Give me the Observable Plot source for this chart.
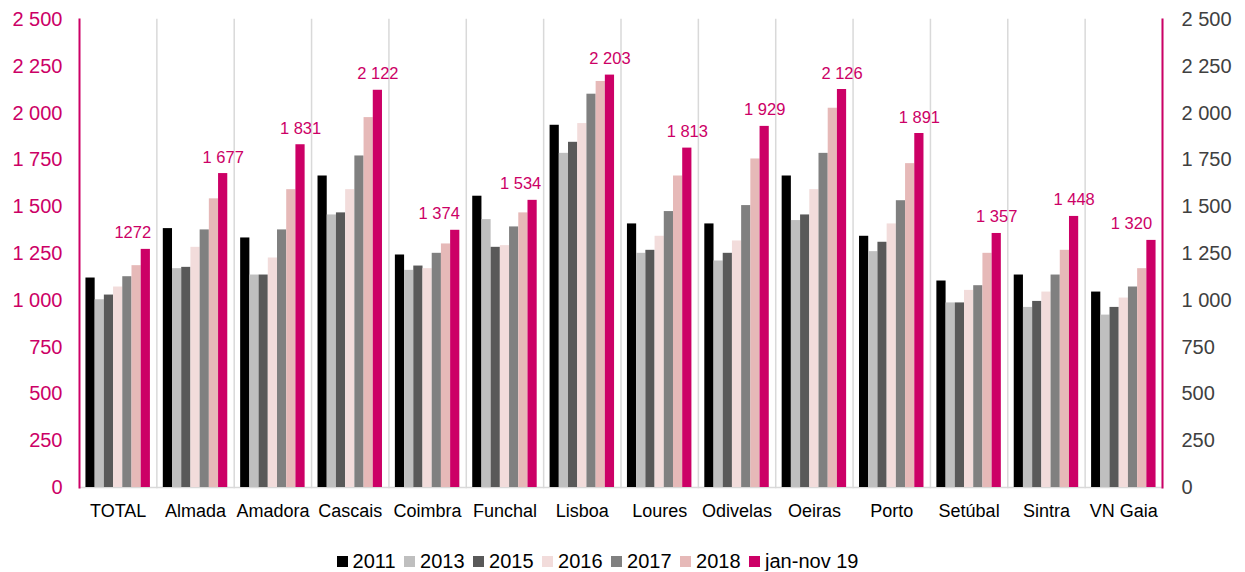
<!DOCTYPE html>
<html><head><meta charset="utf-8">
<script src="https://cdn.jsdelivr.net/npm/d3@7"></script>
<script src="https://cdn.jsdelivr.net/npm/@observablehq/plot@0.6"></script>
<style>
body{margin:0;background:#fff;font-family:"Liberation Sans",Arial,sans-serif}
#legend{display:flex;justify-content:center;align-items:center;gap:8.5px;font-size:20px;color:#000;margin-top:21px;padding-right:50px;line-height:20px;height:20px}
#legend .item{display:flex;align-items:center;gap:5px}
#legend .sw{width:11px;height:11px;display:inline-block}
</style></head><body>
<div id="chart"></div>
<div id="legend"></div>
<script>
const categories = ["TOTAL","Almada","Amadora","Cascais","Coimbra","Funchal","Lisboa","Loures","Odivelas","Oeiras","Porto","Setúbal","Sintra","VN Gaia"];
const series = ["2011","2013","2015","2016","2017","2018","jan-nov 19"];
const v2011 = [1119,1383,1333,1664,1242,1556,1935,1408,1408,1664,1342,1103,1135,1044];
const v2013 = [1003,1169,1135,1456,1160,1431,1785,1251,1210,1426,1260,986,962,921];
const v2015 = [1028,1176,1135,1467,1183,1283,1844,1267,1251,1456,1310,986,994,962];
const v2016 = [1071,1283,1226,1591,1169,1292,1944,1342,1317,1591,1408,1053,1044,1012];
const v2017 = [1126,1376,1376,1771,1251,1392,2101,1474,1506,1785,1532,1078,1135,1071];
const v2018 = [1185,1542,1591,1976,1301,1467,2169,1664,1755,2026,1730,1251,1267,1169];
const v2019 = [1272,1677,1831,2122,1374,1534,2203,1813,1929,2126,1891,1357,1448,1320];
const valueLabels = ["1272","1 677","1 831","2 122","1 374","1 534","2 203","1 813","1 929","2 126","1 891","1 357","1 448","1 320"];
const yTicks = [0,250,500,750,1000,1250,1500,1750,2000,2250,2500];
const colors = ["#000000","#bfbfbf","#595959","#f2dcdb","#808080","#e6b9b8","#cc0066"];

const seriesValues = [v2011,v2013,v2015,v2016,v2017,v2018,v2019];
const data = [];
categories.forEach((c,i)=>series.forEach((s,j)=>data.push({cat:c, series:s, value:seriesValues[j][i]})));
const labelData = categories.map((c,i)=>({cat:c, series:series[6], value:v2019[i], label:valueLabels[i]}));

const fmt = d => d3.format(",")(d).replace(/,/g," ");
const pink = "#cc0066";
const labelStyle = {fx:"cat", x:"series", y:"value", text:"label", fill:pink, fontSize:16.5, lineAnchor:"bottom", dy:-11, textAnchor:"middle"};
const shifted = {"TOTAL":-13, "Coimbra":-16, "Funchal":-12, "VN Gaia":-20};

const chart = Plot.plot({
  width:1245, height:530,
  marginLeft:79, marginRight:83, marginTop:19, marginBottom:43,
  style:{fontFamily:"'Liberation Sans', Arial, sans-serif", background:"white", overflow:"visible"},
  fx:{domain:categories, padding:0, round:false, label:null},
  x:{domain:series, paddingInner:0, paddingOuter:0.7, round:false, axis:null},
  y:{domain:[0,2500], axis:null},
  color:{domain:series, range:colors},
  marks:[
    Plot.frame({anchor:"right", stroke:"#d9d9d9", strokeWidth:1.5}),
    Plot.ruleY([0], {stroke:"#d9d9d9", strokeWidth:1.5}),
    Plot.barY(data, {fx:"cat", x:"series", y:"value", fill:"series"}),
    Plot.text(labelData.filter(d=>!(d.cat in shifted)), labelStyle),
    ...Object.keys(shifted).map(k => Plot.text(labelData.filter(d=>d.cat===k), {...labelStyle, dx:shifted[k]})),
    Plot.frame({anchor:"left", stroke:pink, strokeWidth:2, facetAnchor:"left"}),
    Plot.frame({anchor:"right", stroke:pink, strokeWidth:2, facetAnchor:"right"}),
    Plot.axisY({anchor:"left", ticks:yTicks, tickFormat:fmt, tickSize:0, tickPadding:17, fill:pink, fontSize:20, label:null}),
    Plot.axisY({anchor:"right", ticks:yTicks, tickFormat:fmt, tickSize:0, tickPadding:19, fill:"#404040", fontSize:20, label:null}),
    Plot.axisFx({anchor:"bottom", tickSize:0, tickPadding:17, fontSize:18, fill:"#000", label:null})
  ]
});
document.getElementById("chart").appendChild(chart);

const legend = document.getElementById("legend");
series.forEach((s,j)=>{
  const it = document.createElement("span"); it.className="item";
  const sw = document.createElement("span"); sw.className="sw"; sw.style.background=colors[j];
  const t = document.createElement("span"); t.textContent=s;
  it.appendChild(sw); it.appendChild(t); legend.appendChild(it);
});
</script>
</body></html>
